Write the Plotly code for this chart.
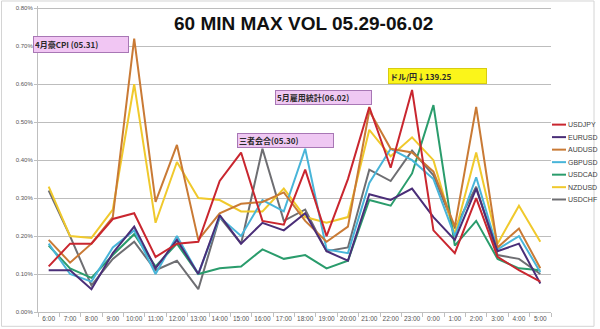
import plotly.graph_objects as go

hours = ["6:00", "7:00", "8:00", "9:00", "10:00", "11:00", "12:00", "13:00", "14:00",
         "15:00", "16:00", "17:00", "18:00", "19:00", "20:00", "21:00", "22:00", "23:00",
         "0:00", "1:00", "2:00", "3:00", "4:00", "5:00"]

USDJPY = [0.12, 0.18, 0.18, 0.245, 0.26, 0.145, 0.18, 0.185, 0.345, 0.42, 0.24, 0.23,
          0.375, 0.20, 0.35, 0.54, 0.38, 0.585, 0.215, 0.155, 0.30, 0.145, 0.11, 0.08]
EURUSD = [0.11, 0.11, 0.06, 0.155, 0.225, 0.115, 0.19, 0.10, 0.255, 0.18, 0.235, 0.215,
          0.26, 0.16, 0.135, 0.31, 0.295, 0.325, 0.25, 0.19, 0.325, 0.16, 0.18, 0.075]
AUDUSD = [0.19, 0.13, 0.18, 0.25, 0.72, 0.29, 0.44, 0.19, 0.26, 0.285, 0.29, 0.315,
          0.24, 0.185, 0.225, 0.53, 0.43, 0.42, 0.37, 0.225, 0.54, 0.17, 0.22, 0.115]
GBPUSD = [0.18, 0.10, 0.08, 0.17, 0.215, 0.10, 0.20, 0.10, 0.25, 0.20, 0.295, 0.265,
          0.43, 0.165, 0.155, 0.34, 0.43, 0.40, 0.35, 0.20, 0.355, 0.165, 0.20, 0.105]
USDCAD = [0.175, 0.115, 0.09, 0.15, 0.205, 0.12, 0.18, 0.10, 0.115, 0.12, 0.165, 0.14,
          0.15, 0.115, 0.135, 0.295, 0.28, 0.365, 0.545, 0.175, 0.24, 0.14, 0.115, 0.11]
NZDUSD = [0.33, 0.20, 0.195, 0.27, 0.60, 0.235, 0.395, 0.30, 0.295, 0.265, 0.265, 0.325,
          0.25, 0.235, 0.25, 0.48, 0.41, 0.46, 0.40, 0.205, 0.42, 0.18, 0.28, 0.185]
USDCHF = [0.32, 0.20, 0.07, 0.14, 0.185, 0.11, 0.135, 0.06, 0.25, 0.18, 0.43, 0.24,
          0.27, 0.16, 0.17, 0.375, 0.345, 0.425, 0.36, 0.22, 0.33, 0.15, 0.14, 0.10]

series_names = ["USDJPY", "EURUSD", "AUDUSD", "GBPUSD", "USDCAD", "NZDUSD", "USDCHF"]
series_values = [USDJPY, EURUSD, AUDUSD, GBPUSD, USDCAD, NZDUSD, USDCHF]
series_colors = ["#c9262f", "#4a2e78", "#c97a35", "#48b5d9", "#2a9c6c", "#f0c92c", "#6e6e72"]

y_ticks = [0.0, 0.1, 0.2, 0.3, 0.4, 0.5, 0.6, 0.7, 0.8]
y_tick_labels = ["0.00%", "0.10%", "0.20%", "0.30%", "0.40%", "0.50%", "0.60%", "0.70%", "0.80%"]

title_text = "60 MIN MAX VOL 05.29-06.02"
events = ["4月豪CPI (05.31)", "三者会合(05.30)", "5月雇用統計(06.02)", "ドル/円↓139.25"]

fig = go.Figure()
draw_order = [6, 5, 4, 3, 2, 1, 0]
for i in draw_order:
    fig.add_trace(go.Scatter(x=hours, y=series_values[i], name=series_names[i],
                             mode="lines", line=dict(color=series_colors[i], width=2),
                             showlegend=False))

# plot area in pixels: x 38..551, y 6..311.7 (0.80% grid at ~y 8)
L, R, T, B = 38, 551, 6, 311.7
W, H = R - L, B - T

def px(x):
    return (x - L) / W

def py(y):
    return (B - y) / H

annotations = []
annotations.append(dict(text="<b>" + title_text + "</b>", x=px(303), y=py(23), xref="paper", yref="paper",
                        showarrow=False, xanchor="center", yanchor="middle",
                        font=dict(family="Liberation Sans, Arial, sans-serif", size=19, color="#111111")))

cjk = "Noto Sans CJK JP"
boxes = [
    (events[0], 33, 129, 36, 53, "#f1c6f3", "#a877b5"),
    (events[1], 237, 334, 133, 148, "#efc8f3", "#a877b5"),
    (events[2], 275, 372, 90, 105, "#efc8f3", "#a877b5"),
    (events[3], 388, 487, 68, 84, "#fbf51a", "#d8cc10"),
]
for text, x0, x1, y0, y1, bg, bd in boxes:
    annotations.append(dict(text="<b>" + text + "</b>", x=px(x0), y=py((y0 + y1) / 2),
                            xref="paper", yref="paper", showarrow=False,
                            xanchor="left", yanchor="middle", align="left",
                            width=x1 - x0 - 4, height=y1 - y0 - 4, borderpad=1,
                            bgcolor=bg, bordercolor=bd, borderwidth=1,
                            font=dict(family=cjk, size=8, color="#2a2a2a")))

shapes = []
leg_y = [124.5, 137, 149.5, 162, 174.5, 187, 199.3]
for name, col, yy in zip(series_names, series_colors, leg_y):
    shapes.append(dict(type="line", xref="paper", yref="paper", x0=px(552), x1=px(566),
                       y0=py(yy), y1=py(yy), line=dict(color=col, width=2)))
    annotations.append(dict(text=name, x=px(566), y=py(yy), xref="paper", yref="paper",
                            showarrow=False, xanchor="left", yanchor="middle",
                            font=dict(family="Liberation Sans, Arial, sans-serif", size=7, color="#404040")))

shapes.append(dict(type="rect", xref="paper", yref="paper", x0=px(1.5), x1=px(594),
                   y0=py(326), y1=py(1), line=dict(color="#d4d4d4", width=1), layer="below"))

fig.update_layout(
    width=600, height=329,
    margin=dict(l=L, r=600 - R, t=T, b=329 - B),
    paper_bgcolor="white", plot_bgcolor="white",
    annotations=annotations, shapes=shapes,
    xaxis=dict(type="category", range=[-0.5, 23.5], showgrid=False,
               showline=True, linecolor="#bfbfbf", linewidth=1,
               ticks="outside", ticklen=4, tickcolor="#bfbfbf", tickson="boundaries",
               tickangle=0,
               tickfont=dict(family="Liberation Sans, Arial, sans-serif", size=6.5, color="#555555")),
    yaxis=dict(range=[0, 0.806], tickvals=y_ticks, ticktext=y_tick_labels,
               showgrid=True, gridcolor="#bdbdbd", gridwidth=1,
               showline=True, linecolor="#bfbfbf", linewidth=1,
               ticks="outside", ticklen=3, tickcolor="#bfbfbf", zeroline=False,
               tickfont=dict(family="Liberation Sans, Arial, sans-serif", size=6, color="#555555")),
)

fig.write_html("out.html")
